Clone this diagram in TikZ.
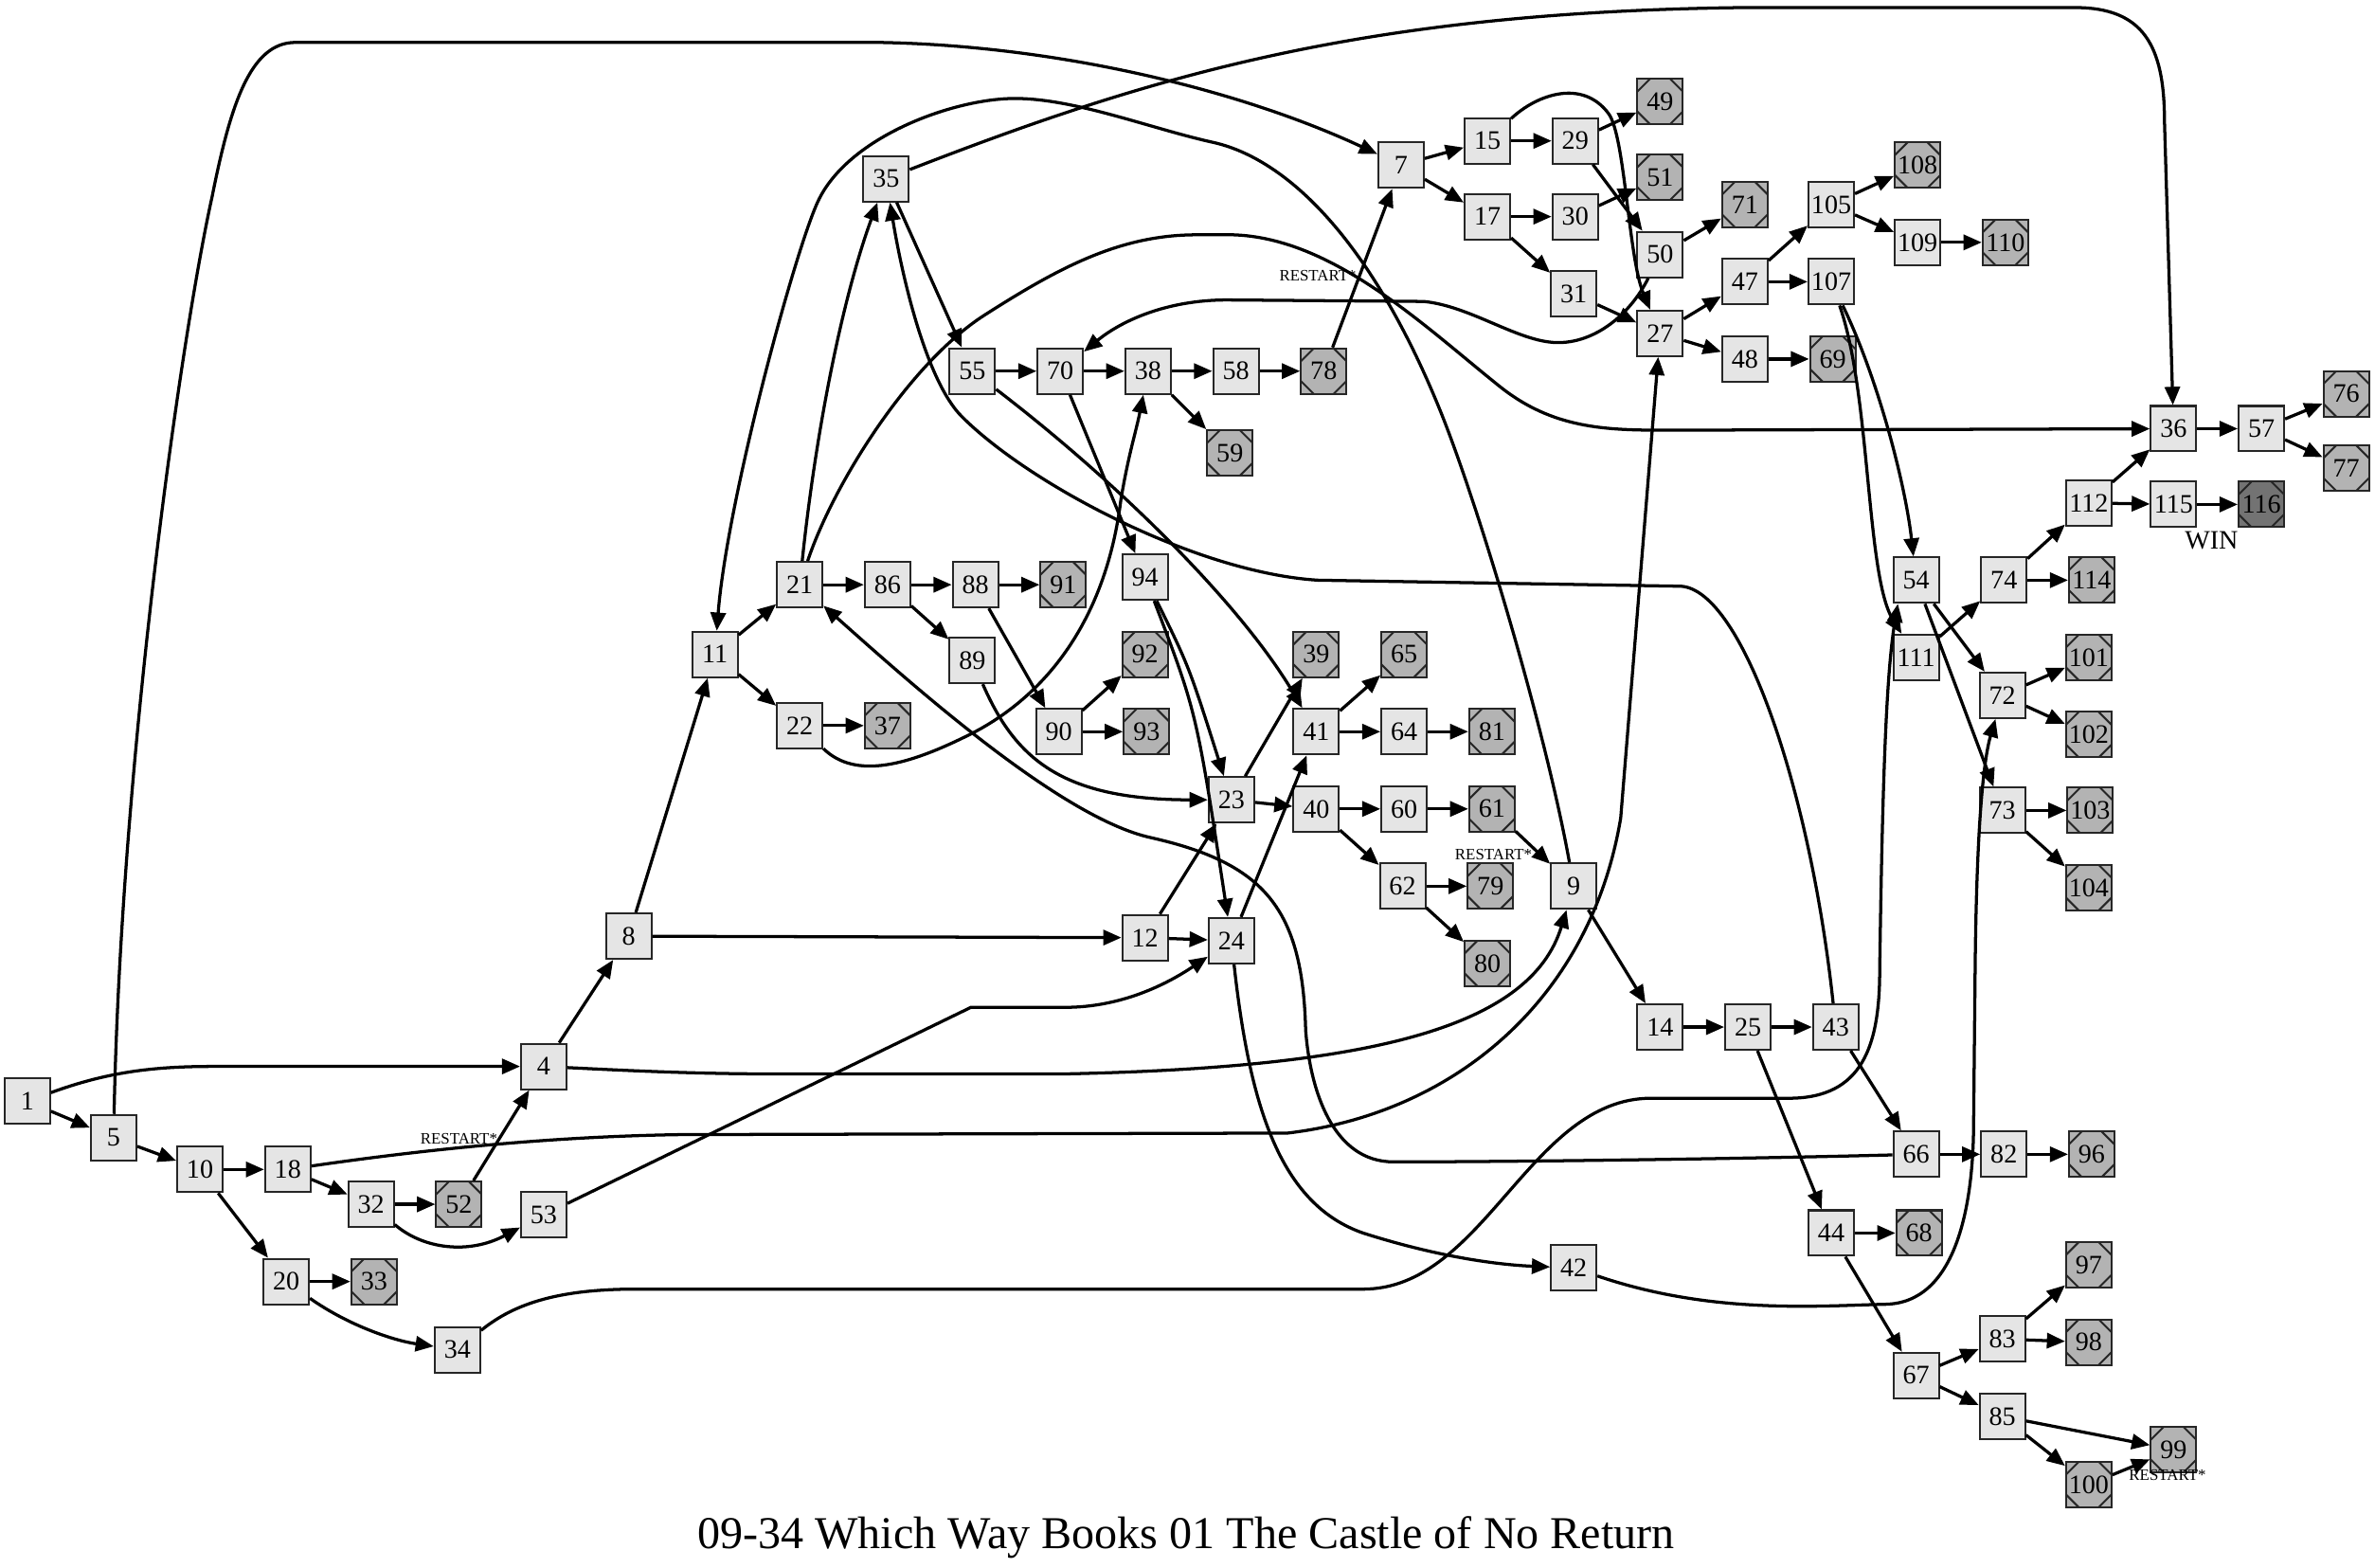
\documentclass[tikz,border=0pt]{standalone}
\usepackage{fontspec}
\setmainfont{Liberation Serif}
\usepackage{tikz}
\usetikzlibrary{positioning, arrows.meta}
\definecolor{boxgray}{HTML}{E5E5E5}
\definecolor{endgray}{HTML}{B3B3B3}
\definecolor{wingray}{HTML}{737373}

\begin{document}
\begin{tikzpicture}[x=0.025cm, y=-0.025cm, node distance=0.6675cm,
  >={Triangle[length=3mm, width=2.5mm]},
  main/.style={rectangle, draw=black!85, line width=0.9pt, fill=boxgray, minimum size=0.75cm, inner sep=0pt, font=\fontsize{12.5}{13}\selectfont},
  dead/.style={main, fill=endgray, path picture={
    \draw[line width=0.9pt, black!85]
      ([yshift=-2.1mm]path picture bounding box.north west) -- ([xshift=2.1mm]path picture bounding box.north west)
      ([xshift=-2.1mm]path picture bounding box.north east) -- ([yshift=-2.1mm]path picture bounding box.north east)
      ([yshift=2.1mm]path picture bounding box.south east) -- ([xshift=-2.1mm]path picture bounding box.south east)
      ([xshift=2.1mm]path picture bounding box.south west) -- ([yshift=2.1mm]path picture bounding box.south west);}},
  winbox/.style={dead, fill=wingray},
  restart/.style={inner sep=0pt, font=\fontsize{7.5}{8}\selectfont},
  link/.style={line width=1.45pt, ->}]
    \useasboundingbox (0,0) rectangle (1568,1035);

    \node[main] (1) at (18,727) {1};
    \node[main] (5) at (75,751) {5};
    \node[main] (10) at (132,772) {10};
    \node[main] (18) [right=of 10] {18};
    \node[main] (20) at (189,846) {20};
    \node[dead] (33) [right=of 20] {33};
    \node[main] (32) at (245,795) {32};
    \node[dead] (52) [right=of 32] {52};
    \node[main] (53) at (359,802) {53};
    \node[main] (34) at (302,891) {34};
    \node[main] (4) at (359,704) {4};
    \node[main] (8) at (415,618) {8};
    \node[main] (11) at (472,432) {11};
    \node[main] (21) at (528,386) {21};
    \node[main] (86) [right=of 21] {86};
    \node[main] (88) [right=of 86] {88};
    \node[dead] (91) [right=of 88] {91};
    \node[main] (22) at (528,479) {22};
    \node[dead] (37) [right=of 22] {37};
    \node[main] (89) at (642,436) {89};
    \node[main] (90) at (699,483) {90};
    \node[dead] (93) [right=of 90] {93};
    \node[dead] (92) at (756,432) {92};
    \node[main] (94) at (756,381) {94};
    \node[main] (35) at (585,118) {35};
    \node[main] (55) at (642,245) {55};
    \node[main] (70) [right=of 55] {70};
    \node[main] (38) [right=of 70] {38};
    \node[main] (58) [right=of 38] {58};
    \node[dead] (78) [right=of 58] {78};
    \node[dead] (59) at (812,299) {59};
    \node[main] (12) at (756,619) {12};
    \node[main] (24) at (813,621) {24};
    \node[main] (23) at (813,528) {23};
    \node[dead] (39) at (869,432) {39};
    \node[dead] (65) [right=of 39] {65};
    \node[main] (41) at (869,483) {41};
    \node[main] (64) [right=of 41] {64};
    \node[dead] (81) [right=of 64] {81};
    \node[main] (40) at (869,534) {40};
    \node[main] (60) [right=of 40] {60};
    \node[dead] (61) [right=of 60] {61};
    \node[main] (62) at (926,585) {62};
    \node[dead] (79) [right=of 62] {79};
    \node[dead] (80) at (982,636) {80};
    \node[main] (9) at (1039,585) {9};
    \node[main] (42) at (1039,837) {42};
    \node[main] (14) at (1096,678) {14};
    \node[main] (25) [right=of 14] {25};
    \node[main] (43) [right=of 25] {43};
    \node[main] (7) at (925,109) {7};
    \node[main] (15) at (982,93) {15};
    \node[main] (29) [right=of 15] {29};
    \node[main] (17) at (982,143) {17};
    \node[main] (30) [right=of 17] {30};
    \node[main] (31) at (1039,194) {31};
    \node[dead] (49) at (1096,67) {49};
    \node[dead] (51) at (1096,117) {51};
    \node[main] (50) at (1096,168) {50};
    \node[main] (27) at (1096,220) {27};
    \node[dead] (71) at (1152,135) {71};
    \node[main] (47) at (1152,186) {47};
    \node[main] (48) at (1152,237) {48};
    \node[dead] (69) [right=of 48] {69};
    \node[main] (105) at (1209,135) {105};
    \node[main] (107) at (1209,186) {107};
    \node[dead] (108) at (1266,109) {108};
    \node[main] (109) at (1266,160) {109};
    \node[dead] (110) [right=of 109] {110};
    \node[main] (54) at (1265,383) {54};
    \node[main] (74) [right=of 54] {74};
    \node[dead] (114) [right=of 74] {114};
    \node[main] (111) at (1265,434) {111};
    \node[main] (72) at (1322,459) {72};
    \node[dead] (101) at (1379,434) {101};
    \node[dead] (102) at (1379,485) {102};
    \node[main] (73) at (1322,535) {73};
    \node[dead] (103) [right=of 73] {103};
    \node[dead] (104) at (1379,586) {104};
    \node[main] (112) at (1379,332) {112};
    \node[main] (36) at (1435,283) {36};
    \node[main] (57) [right=of 36] {57};
    \node[dead] (76) at (1549,260) {76};
    \node[dead] (77) at (1549,309) {77};
    \node[main] (115) at (1435,333) {115};
    \node[winbox] (116) [right=of 115] {116};
    \node[main] (66) at (1265,762) {66};
    \node[main] (82) [right=of 66] {82};
    \node[dead] (96) [right=of 82] {96};
    \node[main] (44) at (1209,814) {44};
    \node[dead] (68) [right=of 44] {68};
    \node[main] (67) at (1265,908) {67};
    \node[main] (83) at (1322,884) {83};
    \node[dead] (97) at (1379,835) {97};
    \node[dead] (98) at (1379,886) {98};
    \node[main] (85) at (1322,935) {85};
    \node[dead] (99) at (1435,957) {99};
    \node[dead] (100) at (1379,980) {100};

    \node[restart] (r18) at (303,752) {RESTART*};
    \node[restart] (r78) at (870,182) {RESTART*};
    \node[restart] (r61) at (986,564) {RESTART*};
    \node[restart] (r100) at (1431,974) {RESTART*};
    \node[inner sep=0pt, font=\fontsize{12.5}{13}\selectfont] (winlabel) at (1460,357) {WIN};
    \node[anchor=base, font=\fontsize{21.4}{24}\selectfont] (title) at (783,1022) {09-34 Which Way Books 01 The Castle of No Return};

    \draw[link] (1) -- (5);
    \draw[link] (1) .. controls (70,708) and (100,704) .. (140,704) -- (4);
    \draw[link] (5) -- (10);
    \draw[link] (5) .. controls (80,500) and (120,220) .. (140,130) .. controls (152,70) and (165,28) .. (195,28) -- (580,28) .. controls (700,30) and (820,60) .. (7);
    \draw[link] (10) -- (18);
    \draw[link] (10) -- (20);
    \draw[link] (18) -- (32);
    \draw[link] (18) .. controls (300,756) and (380,750) .. (450,749) -- (850,748) .. controls (960,735) and (1050,660) .. (1070,540) -- (27);
    \draw[link] (20) -- (33);
    \draw[link] (20) .. controls (230,875) and (260,885) .. (34);
    \draw[link] (32) -- (52);
    \draw[link] (32) .. controls (280,825) and (310,828) .. (53);
    \draw[link] (52) -- (4);
    \draw[link] (53) -- (641,665) -- (703,665) .. controls (740,665) and (770,650) .. (24);
    \draw[link] (34) .. controls (340,860) and (370,851) .. (420,851) -- (900,851) .. controls (980,851) and (1010,725) .. (1090,725) -- (1181,725) .. controls (1230,725) and (1241,690) .. (1241,640) .. controls (1243,500) and (1246,440) .. ([xshift=-3mm]54.south);
    \draw[link] (4) -- (8);
    \draw[link] (4) .. controls (420,707) and (460,709) .. (520,709) -- (700,709) .. controls (900,705) and (1010,680) .. (9);
    \draw[link] (8) -- (11);
    \draw[link] (8) -- (12);
    \draw[link] (11) -- (21);
    \draw[link] (11) -- (22);
    \draw[link] (21) -- (86);
    \draw[link] (21) .. controls (538,290) and (555,200) .. (35);
    \draw[link] (21) .. controls (550,320) and (600,240) .. (650,208) .. controls (700,176) and (740,155) .. (790,155) -- (814,155) .. controls (880,157) and (940,215) .. (990,255) .. controls (1025,283) and (1060,284) .. (1100,284) -- (36);
    \draw[link] (22) -- (37);
    \draw[link] (22) .. controls (565,515) and (600,505) .. (640,485) .. controls (690,460) and (730,410) .. (740,330) .. controls (745,300) and (750,285) .. (38);
    \draw[link] (86) -- (88);
    \draw[link] (86) -- (89);
    \draw[link] (88) -- (91);
    \draw[link] (88) -- (90);
    \draw[link] (89) .. controls (670,500) and (700,528) .. (23);
    \draw[link] (90) -- (92);
    \draw[link] (90) -- (93);
    \draw[link] (94) .. controls (785,440) .. (23);
    \draw[link] (94) .. controls (790,470) .. (24);
    \draw[link] (35) -- (55);
    \draw[link] (35) .. controls (760,50) and (900,8) .. (1150,5) -- (1370,5) .. controls (1415,5) and (1429,30) .. (1429,80) -- (36);
    \draw[link] (55) -- (70);
    \draw[link] (55) .. controls (740,320) and (820,400) .. (41);
    \draw[link] (70) -- (38);
    \draw[link] (70) -- (94);
    \draw[link] (38) -- (58);
    \draw[link] (38) -- (59);
    \draw[link] (58) -- (78);
    \draw[link] (78) -- (7);
    \draw[link] (7) -- (15);
    \draw[link] (7) -- (17);
    \draw[link] (15) -- (29);
    \draw[link] (15) .. controls (1015,62) and (1045,52) .. (1062,75) .. controls (1073,90) and (1075,170) .. (27);
    \draw[link] (17) -- (30);
    \draw[link] (17) -- (31);
    \draw[link] (29) -- (49);
    \draw[link] (29) -- (50);
    \draw[link] (30) -- (51);
    \draw[link] (31) -- (27);
    \draw[link] (50) -- (71);
    \draw[link] (50) .. controls (1075,210) and (1050,228) .. (1025,226) .. controls (1000,224) and (970,202) .. (940,199) -- (810,198) .. controls (770,198) and (740,212) .. (70);
    \draw[link] (27) -- (47);
    \draw[link] (27) -- (48);
    \draw[link] (48) -- (69);
    \draw[link] (47) -- (105);
    \draw[link] (47) -- (107);
    \draw[link] (105) -- (108);
    \draw[link] (105) -- (109);
    \draw[link] (109) -- (110);
    \draw[link] (107) .. controls (1240,250) and (1258,320) .. (54);
    \draw[link] (107) .. controls (1235,260) and (1232,380) .. (111);
    \draw[link] (36) -- (57);
    \draw[link] (57) -- (76);
    \draw[link] (57) -- (77);
    \draw[link] (112) -- (36);
    \draw[link] (112) -- (115);
    \draw[link] (115) -- (116);
    \draw[link] (74) -- (112);
    \draw[link] (74) -- (114);
    \draw[link] (111) -- (74);
    \draw[link] (54) -- (72);
    \draw[link] (54) -- (73);
    \draw[link] (72) -- (101);
    \draw[link] (72) -- (102);
    \draw[link] (73) -- (103);
    \draw[link] (73) -- (104);
    \draw[link] (12) -- (23);
    \draw[link] (12) -- (24);
    \draw[link] (23) -- (39);
    \draw[link] (23) -- (40);
    \draw[link] (24) -- (41);
    \draw[link] (24) .. controls (825,730) and (845,795) .. (900,814) .. controls (950,830) and (990,835) .. (42);
    \draw[link] (41) -- (65);
    \draw[link] (41) -- (64);
    \draw[link] (64) -- (81);
    \draw[link] (40) -- (60);
    \draw[link] (40) -- (62);
    \draw[link] (60) -- (61);
    \draw[link] (61) -- (9);
    \draw[link] (62) -- (79);
    \draw[link] (62) -- (80);
    \draw[link] (9) -- (14);
    \draw[link] (9) .. controls (1020,480) and (975,330) .. (950,269) .. controls (905,159) and (850,105) .. (801,94) .. controls (760,85) and (710,65) .. (670,65) .. controls (630,65) and (560,90) .. (540,133) .. controls (525,165) and (480,330) .. (11);
    \draw[link] (42) .. controls (1130,868) and (1200,862) .. (1245,861) .. controls (1290,860) and (1303,800) .. (1303,740) -- (1304,640) .. controls (1305,540) and (1310,500) .. (72);
    \draw[link] (14) -- (25);
    \draw[link] (25) -- (43);
    \draw[link] (25) -- (44);
    \draw[link] (43) -- (66);
    \draw[link] (43) .. controls (1195,520) and (1150,390) .. (1110,387) -- (870,383) .. controls (790,378) and (680,320) .. (635,275) .. controls (612,252) and (596,185) .. (35);
    \draw[link] (66) -- (82);
    \draw[link] (66) .. controls (1150,765) and (1000,767) .. (920,767) .. controls (880,767) and (865,720) .. (862,680) .. controls (860,600) and (835,570) .. (760,553) .. controls (700,540) and (600,450) .. (21);
    \draw[link] (82) -- (96);
    \draw[link] (44) -- (68);
    \draw[link] (44) -- (67);
    \draw[link] (67) -- (83);
    \draw[link] (67) -- (85);
    \draw[link] (83) -- (97);
    \draw[link] (83) -- (98);
    \draw[link] (85) -- (99);
    \draw[link] (85) -- (100);
    \draw[link] (100) -- (99);
\end{tikzpicture}
\end{document}
